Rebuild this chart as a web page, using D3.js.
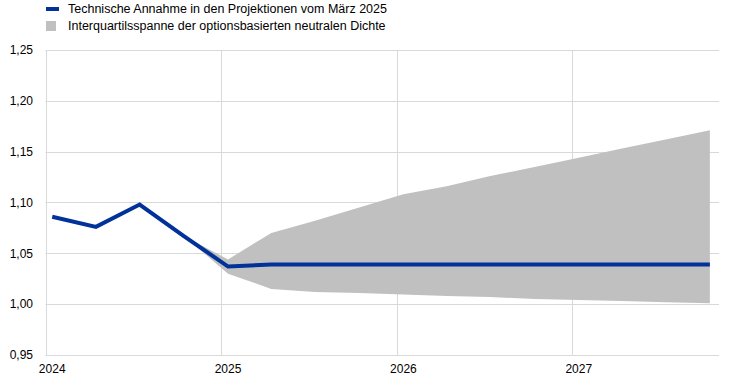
<!DOCTYPE html>
<html>
<head>
<meta charset="utf-8">
<script src="https://cdn.jsdelivr.net/npm/d3@7"></script>
<style>
  body { margin: 0; background: #fff; }
  svg { display: block; font-family: "Liberation Sans", Arial, sans-serif; }
</style>
</head>
<body>
<div id="chart"></div>
<script>
// Quarterly observation dates (mid-month of each quarter start)
const dates = [
  "2024-01-15", "2024-04-15", "2024-07-15", "2024-10-15",
  "2025-01-15", "2025-04-15", "2025-07-15", "2025-10-15",
  "2026-01-15", "2026-04-15", "2026-07-15", "2026-10-15",
  "2027-01-15", "2027-04-15", "2027-07-15", "2027-10-15"
];

// Technical assumption (blue line)
const assumption = [1.086, 1.076, 1.098, 1.067, 1.037, 1.039, 1.039, 1.039,
                    1.039, 1.039, 1.039, 1.039, 1.039, 1.039, 1.039, 1.039];

// Interquartile range, starts at 2024-10
const bandStart = 3;
const bandUpper = [1.067, 1.044, 1.070, 1.082, 1.095, 1.108, 1.116, 1.126, 1.135, 1.144, 1.153, 1.162, 1.171];
const bandLower = [1.067, 1.030, 1.015, 1.012, 1.011, 1.0095, 1.008, 1.007, 1.005, 1.004, 1.003, 1.002, 1.001];

const yTicks = [0.95, 1.00, 1.05, 1.10, 1.15, 1.20, 1.25];
const years = [2024, 2025, 2026, 2027];

const legendItems = [
  "Technische Annahme in den Projektionen vom März 2025",
  "Interquartilsspanne der optionsbasierten neutralen Dichte"
];

const width = 731, height = 385;
const parse = d3.timeParse("%Y-%m-%d");

const svg = d3.select("#chart").append("svg")
  .attr("width", width)
  .attr("height", height);

const x = d3.scaleTime()
  .domain([new Date(2024, 0, 1), new Date(2027, 10, 3)])
  .range([45.5, 719]);

const y = d3.scaleLinear()
  .domain([0.95, 1.25])
  .range([355, 50]);

const fmt = d3.format(".2f");
const comma = v => fmt(v).replace(".", ",");

// Grid
svg.append("g")
  .selectAll("line")
  .data(yTicks)
  .join("line")
  .attr("x1", x.range()[0])
  .attr("x2", x.range()[1])
  .attr("y1", d => Math.round(y(d)) + 0.5)
  .attr("y2", d => Math.round(y(d)) + 0.5)
  .attr("stroke", "#d9d9d9")
  .attr("stroke-width", 1);

svg.append("g")
  .selectAll("line")
  .data(years)
  .join("line")
  .attr("x1", d => Math.round(x(new Date(d, 0, 1))) + 0.5)
  .attr("x2", d => Math.round(x(new Date(d, 0, 1))) + 0.5)
  .attr("y1", y(1.25))
  .attr("y2", y(0.95))
  .attr("stroke", "#d9d9d9")
  .attr("stroke-width", 1);

// Y labels
svg.append("g")
  .selectAll("text")
  .data(yTicks)
  .join("text")
  .attr("x", 33)
  .attr("y", d => y(d))
  .attr("dy", "0.35em")
  .attr("text-anchor", "end")
  .attr("font-size", "12px")
  .attr("fill", "#000")
  .text(d => comma(d));

// X labels
svg.append("g")
  .selectAll("text")
  .data(years)
  .join("text")
  .attr("x", d => x(new Date(d, 0, 15)))
  .attr("y", 369)
  .attr("dy", "0.35em")
  .attr("text-anchor", "middle")
  .attr("font-size", "12px")
  .attr("fill", "#000")
  .text(d => d);

// Band
const bandData = bandUpper.map((u, i) => ({
  date: parse(dates[bandStart + i]), upper: u, lower: bandLower[i]
}));

svg.append("path")
  .datum(bandData)
  .attr("fill", "#c0c0c0")
  .attr("d", d3.area()
    .x(d => x(d.date))
    .y0(d => y(d.lower))
    .y1(d => y(d.upper)));

// Line
const lineData = dates.map((d, i) => ({ date: parse(d), value: assumption[i] }));

svg.append("path")
  .datum(lineData)
  .attr("fill", "none")
  .attr("stroke", "#003299")
  .attr("stroke-width", 4)
  .attr("stroke-linejoin", "miter")
  .attr("d", d3.line()
    .x(d => x(d.date))
    .y(d => y(d.value)));

// Legend
const legend = svg.append("g");
legend.append("rect")
  .attr("x", 46).attr("y", 7)
  .attr("width", 13).attr("height", 4)
  .attr("fill", "#003299");
legend.append("rect")
  .attr("x", 46).attr("y", 21)
  .attr("width", 10).attr("height", 10)
  .attr("fill", "#c0c0c0");
legend.selectAll("text")
  .data(legendItems)
  .join("text")
  .attr("x", 68)
  .attr("y", (d, i) => 9 + i * 17)
  .attr("dy", "0.35em")
  .attr("font-size", "12.5px")
  .attr("fill", "#000")
  .text(d => d);
</script>
</body>
</html>
